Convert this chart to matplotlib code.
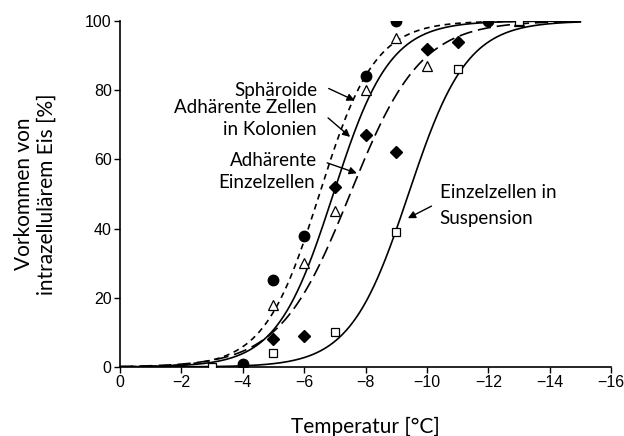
import numpy as np
import matplotlib.pyplot as plt

# measured points: temperature [°C], intracellular ice [%]
sph_t = [-4, -5, -6, -8, -9, -12]
sph_p = [1, 25, 38, 84, 100, 100]

kol_t = [-4, -5, -6, -7, -8, -9, -10, -13]
kol_p = [0, 18, 30, 45, 80, 95, 87, 100]

ein_t = [-5, -6, -7, -8, -9, -10, -11]
ein_p = [8, 9, 52, 67, 62, 92, 94]

sus_t = [-3, -5, -7, -9, -11, -13]
sus_p = [0, 4, 10, 39, 86, 100]

# fitted sigmoid parameters: (T50, width)
sph_fit = (-6.5, 0.9)
kol_fit = (-6.95, 0.92)
ein_fit = (-7.5, 1.15)
sus_fit = (-9.4, 0.95)

xticks = [0, -2, -4, -6, -8, -10, -12, -14, -16]
xticklabels = ['0', '\u22122', '\u22124', '\u22126', '\u22128', '\u221210', '\u221212', '\u221214', '\u221216']
yticks = [0, 20, 40, 60, 80, 100]

label_font = 'Lato'
tick_font = 'Liberation Sans'


def sigmoid(t, fit):
    t50, w = fit
    return 100.0 / (1.0 + np.exp((t - t50) / w))


fig = plt.figure(figsize=(6.24, 4.36), dpi=100)
ax = fig.add_axes([0.1923, 0.1583, 0.7869, 0.7935])

t = np.linspace(0, -15, 400)
lw = 1.2
ax.plot(t, sigmoid(t, sph_fit), color='black', lw=lw, ls=(0, (3.5, 2.8)))
ax.plot(t, sigmoid(t, kol_fit), color='black', lw=lw, ls='-')
ax.plot(t, sigmoid(t, ein_fit), color='black', lw=lw, ls=(0, (8, 3.5)))
ax.plot(t, sigmoid(t, sus_fit), color='black', lw=lw, ls='-')

ms = 6.5
ax.plot(kol_t, kol_p, ls='none', marker='^', ms=ms, mfc='white', mec='black', mew=0.9, zorder=3)
ax.plot(sus_t, sus_p, ls='none', marker='s', ms=ms - 0.5, mfc='white', mec='black', mew=0.9, zorder=4)
ax.plot(sph_t, sph_p, ls='none', marker='o', ms=ms + 1, mfc='black', mec='black', zorder=5)
ax.plot(ein_t, ein_p, ls='none', marker='D', ms=ms - 0.5, mfc='black', mec='black', zorder=5)

ax.set_xlim(0, -16)
ax.set_ylim(0, 100)
ax.set_xticks(xticks)
ax.set_xticklabels(xticklabels)
ax.set_yticks(yticks)
for s in ['top', 'right']:
    ax.spines[s].set_visible(False)
for s in ['left', 'bottom']:
    ax.spines[s].set_linewidth(1.2)
ax.tick_params(direction='out', length=4, width=1.0, labelsize=11.5, pad=2)
for lab in ax.get_xticklabels() + ax.get_yticklabels():
    lab.set_fontfamily(tick_font)

ax.set_xlabel('Temperatur [°C]', fontsize=15, family=label_font, va='center')
ax.xaxis.set_label_coords(0.5, -0.173)
ax.set_ylabel('Vorkommen von\nintrazellulärem Eis [%]', fontsize=15, family=label_font,
              va='center', linespacing=1.15)
ax.yaxis.set_label_coords(-0.173, 0.5)

arrow = dict(arrowstyle='-|>', color='black', lw=1.0, mutation_scale=11, shrinkA=0, shrinkB=0)
txt = dict(fontsize=13.5, family=label_font, va='center')

tx = -6.42
ax.text(tx, 80, 'Sphäroide', ha='right', **txt)
ax.annotate('', xy=(-7.65, 77), xytext=(-6.8, 80.5), arrowprops=arrow)

ax.text(tx, 75, 'Adhärente Zellen', ha='right', **txt)
ax.text(tx, 68.5, 'in Kolonien', ha='right', **txt)
ax.annotate('', xy=(-7.5, 66.5), xytext=(-6.78, 72), arrowprops=arrow)

ax.text(tx, 59.8, 'Adhärente', ha='right', **txt)
ax.text(tx + 0.05, 53.2, 'Einzelzellen', ha='right', **txt)
ax.annotate('', xy=(-7.72, 56), xytext=(-6.75, 59), arrowprops=arrow)

ax.text(-10.42, 50.3, 'Einzelzellen in', ha='left', **txt)
ax.text(-10.42, 43, 'Suspension', ha='left', **txt)
ax.annotate('', xy=(-9.38, 43), xytext=(-10.15, 46.5), arrowprops=arrow)

fig.savefig('out.png', dpi=100)
